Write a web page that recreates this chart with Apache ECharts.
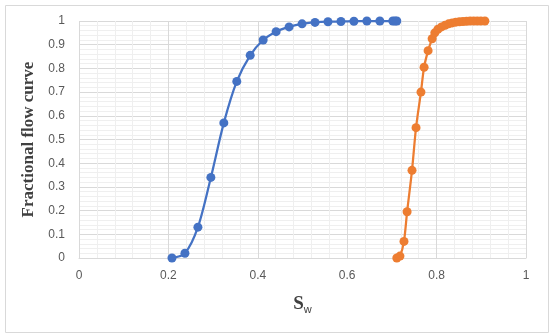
<!DOCTYPE html>
<html>
<head>
<meta charset="utf-8">
<script src="https://cdn.jsdelivr.net/npm/echarts@6/dist/echarts.min.js"></script>
<style>html,body{margin:0;padding:0;background:#fff}#c{width:550px;height:334px}</style>
</head>
<body>
<div id="c"></div>
<script>
// water saturation / fractional flow
const blueSw = [0.208, 0.237, 0.266, 0.295, 0.324, 0.353, 0.383, 0.412, 0.441, 0.47, 0.499, 0.528, 0.557, 0.586, 0.615, 0.644, 0.673, 0.702, 0.707, 0.711];
const blueFw = [0, 0.02, 0.13, 0.34, 0.57, 0.745, 0.855, 0.92, 0.955, 0.975, 0.988, 0.994, 0.997, 0.998, 0.999, 1, 1, 1, 1, 1];
const orangeSw = [0.711, 0.718, 0.727, 0.734, 0.745, 0.754, 0.765, 0.772, 0.781, 0.79, 0.796, 0.803, 0.811, 0.819, 0.827, 0.835, 0.843, 0.851, 0.859, 0.867, 0.875, 0.883, 0.891, 0.899, 0.908];
const orangeFw = [0, 0.008, 0.07, 0.195, 0.37, 0.55, 0.70, 0.805, 0.875, 0.925, 0.95, 0.965, 0.975, 0.982, 0.988, 0.992, 0.995, 0.997, 0.998, 0.999, 1, 1, 1, 1, 1];
const xTicks = [0, 0.2, 0.4, 0.6, 0.8, 1];

const pairs = (xs, ys) => xs.map((x, i) => [x, ys[i]]);
const labelStyle = { color: '#595959', fontSize: 12, fontFamily: 'Liberation Sans' };

const chart = echarts.init(document.getElementById('c'));
chart.setOption({
  animation: false,
  grid: { left: 79, right: 24, top: 21, bottom: 76 },
  graphic: [{
    type: 'rect', left: 3, top: 3,
    shape: { width: 543, height: 327 },
    style: { fill: 'none', stroke: '#d9d9d9', lineWidth: 1 }
  }],
  xAxis: {
    type: 'value', min: 0, max: 1, interval: 0.2,
    name: '{a|S}{b|w}', nameLocation: 'middle', nameGap: 36,
    nameTextStyle: { rich: {
      a: { fontFamily: 'Liberation Serif', fontWeight: 'bold', fontSize: 19, color: '#404040' },
      b: { fontFamily: 'Liberation Sans', fontSize: 11, color: '#404040', verticalAlign: 'bottom', padding: [10, 0, 0, 0] }
    } },
    axisLine: { lineStyle: { color: '#d9d9d9' } },
    axisTick: { show: false },
    axisLabel: Object.assign({ margin: 12, formatter: v => xTicks.includes(+v.toFixed(2)) ? String(+v.toFixed(2)) : '' }, labelStyle),
    splitLine: { show: true, lineStyle: { color: '#d9d9d9' } },
    minorTick: { show: false, splitNumber: 5 },
    minorSplitLine: { show: true, lineStyle: { color: '#efefef' } }
  },
  yAxis: {
    type: 'value', min: 0, max: 1, interval: 0.1,
    name: 'Fractional flow curve', nameLocation: 'middle', nameGap: 37,
    nameTextStyle: { fontFamily: 'Liberation Serif', fontWeight: 'bold', fontSize: 17, color: '#404040' },
    axisLine: { show: false },
    axisTick: { show: false },
    axisLabel: Object.assign({ margin: 14, formatter: v => String(+v.toFixed(1)) }, labelStyle),
    splitLine: { show: true, lineStyle: { color: '#d9d9d9' } },
    minorTick: { show: false, splitNumber: 5 },
    minorSplitLine: { show: true, lineStyle: { color: '#efefef' } }
  },
  series: [{
    type: 'line', data: pairs(blueSw, blueFw), smooth: 0.3,
    symbol: 'circle', symbolSize: 9,
    itemStyle: { color: '#4472c4' }, lineStyle: { width: 2.25, color: '#4472c4' }
  }, {
    type: 'line', data: pairs(orangeSw, orangeFw), smooth: 0.3,
    symbol: 'circle', symbolSize: 9,
    itemStyle: { color: '#ed7d31' }, lineStyle: { width: 2.25, color: '#ed7d31' }
  }]
});
</script>
</body>
</html>
